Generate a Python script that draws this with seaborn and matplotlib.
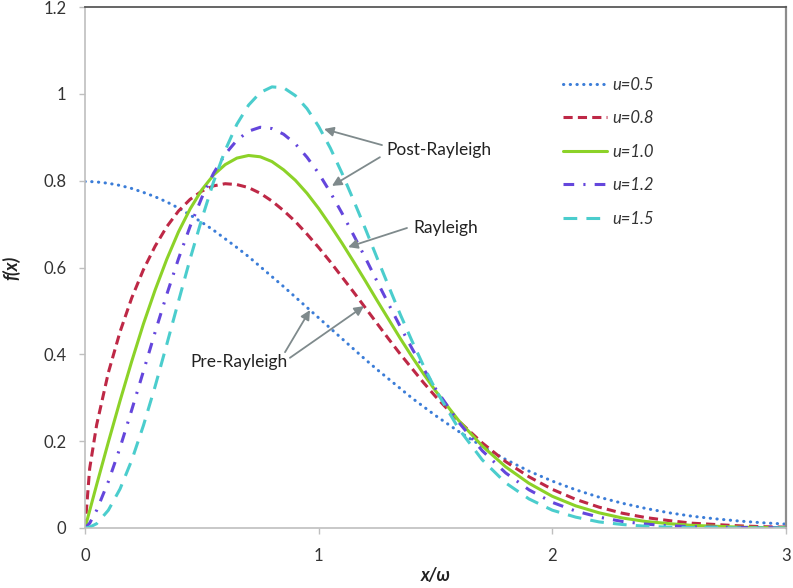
import pandas as pd
import matplotlib
matplotlib.use("Agg")
import matplotlib.pyplot as plt
import seaborn as sns

# values (x/omega vs f(x))
x_vals = [0, 0.02, 0.05, 0.1, 0.15, 0.2, 0.25, 0.3, 0.35, 0.4, 0.45, 0.5, 0.55,
          0.6, 0.65, 0.7, 0.75, 0.8, 0.85, 0.9, 0.95, 1.0, 1.05, 1.1, 1.15, 1.2,
          1.25, 1.3, 1.35, 1.4, 1.45, 1.5, 1.6, 1.7, 1.8, 1.9, 2.0, 2.1, 2.2,
          2.3, 2.4, 2.5, 2.6, 2.7, 2.8, 2.9, 3.0]

f_u05 = [0.798, 0.798, 0.797, 0.794, 0.789, 0.782, 0.773, 0.763, 0.751, 0.737,
         0.721, 0.704, 0.686, 0.666, 0.646, 0.625, 0.602, 0.579, 0.556, 0.532,
         0.508, 0.484, 0.460, 0.436, 0.412, 0.388, 0.365, 0.343, 0.321, 0.299,
         0.279, 0.259, 0.222, 0.188, 0.158, 0.131, 0.108, 0.088, 0.071, 0.057,
         0.045, 0.035, 0.027, 0.021, 0.016, 0.012, 0.009]
f_u08 = [0, 0.137, 0.238, 0.358, 0.452, 0.530, 0.595, 0.649, 0.694, 0.730,
         0.757, 0.776, 0.788, 0.793, 0.791, 0.784, 0.771, 0.753, 0.731, 0.706,
         0.677, 0.646, 0.613, 0.578, 0.543, 0.507, 0.471, 0.435, 0.400, 0.367,
         0.334, 0.303, 0.246, 0.196, 0.153, 0.118, 0.089, 0.066, 0.048, 0.034,
         0.024, 0.017, 0.011, 0.008, 0.005, 0.003, 0.002]
f_u10 = [0, 0.040, 0.100, 0.198, 0.293, 0.384, 0.470, 0.548, 0.619, 0.682,
         0.735, 0.779, 0.813, 0.837, 0.852, 0.858, 0.855, 0.844, 0.825, 0.801,
         0.771, 0.736, 0.697, 0.656, 0.613, 0.569, 0.524, 0.480, 0.436, 0.394,
         0.354, 0.316, 0.247, 0.189, 0.141, 0.103, 0.073, 0.051, 0.035, 0.023,
         0.015, 0.010, 0.006, 0.004, 0.002, 0.001, 0.001]
f_u12 = [0, 0.011, 0.041, 0.107, 0.185, 0.272, 0.361, 0.451, 0.538, 0.620,
         0.695, 0.761, 0.817, 0.861, 0.893, 0.914, 0.923, 0.920, 0.907, 0.885,
         0.854, 0.817, 0.773, 0.725, 0.674, 0.622, 0.568, 0.515, 0.463, 0.413,
         0.366, 0.321, 0.243, 0.178, 0.127, 0.088, 0.059, 0.039, 0.025, 0.015,
         0.009, 0.005, 0.003, 0.002, 0.001, 0.001, 0.000]
f_u15 = [0, 0.002, 0.010, 0.041, 0.090, 0.156, 0.236, 0.326, 0.423, 0.522,
         0.620, 0.712, 0.797, 0.870, 0.930, 0.974, 1.003, 1.016, 1.014, 0.996,
         0.966, 0.925, 0.875, 0.817, 0.754, 0.689, 0.622, 0.556, 0.491, 0.430,
         0.372, 0.319, 0.228, 0.157, 0.104, 0.067, 0.041, 0.025, 0.014, 0.008,
         0.004, 0.002, 0.001, 0.001, 0.000, 0.000, 0.000]

series_labels = ["u=0.5", "u=0.8", "u=1.0", "u=1.2", "u=1.5"]
series_values = [f_u05, f_u08, f_u10, f_u12, f_u15]

colors = ["#3B7DD8", "#BE2846", "#8CD228", "#6446DC", "#4BCDCD"]
styles = [(0, (0.1, 2.1)), (0, (3, 1.7)), "-", (0, (3.5, 3, 0.7, 3)), (0, (4.5, 3))]
caps = ["round", "butt", "butt", "butt", "butt"]

df = pd.concat(
    [pd.DataFrame({"x": x_vals, "f": v, "u": lab}) for lab, v in zip(series_labels, series_values)],
    ignore_index=True,
)

sns.set_theme(style="white")
plt.rcParams["font.family"] = ["Lato", "DejaVu Sans"]

fig = plt.figure(figsize=(7.93, 5.88), dpi=100)
ax = fig.add_axes([85 / 793, 1 - 528 / 588, 701 / 793, 521 / 588])

for lab, col, ls, cap in zip(series_labels, colors, styles, caps):
    sns.lineplot(data=df[df["u"] == lab], x="x", y="f", color=col, linestyle=ls,
                 lw=2.2, dash_capstyle=cap, label=lab, ax=ax, errorbar=None)

ax.set_xlim(0, 3)
ax.set_ylim(0, 1.2)
ax.set_xticks([0, 1, 2, 3])
ax.set_yticks([0, 0.2, 0.4, 0.6, 0.8, 1.0, 1.2])
ax.set_yticklabels(["0", "0.2", "0.4", "0.6", "0.8", "1", "1.2"])
ax.set_xticklabels(["0", "1", "2", "3"])
ax.tick_params(axis="both", which="major", direction="out", length=4.5, width=1,
               color="#BFBFBF", labelsize=12, labelcolor="#333333", left=True, bottom=True)
ax.tick_params(axis="x", pad=10)
ax.tick_params(axis="y", pad=9)

for side in ["left", "bottom"]:
    ax.spines[side].set_color("#BFBFBF")
    ax.spines[side].set_linewidth(1.2)
ax.spines["top"].set_color("#595959")
ax.spines["top"].set_linewidth(1.3)
ax.spines["right"].set_color("#8C8C8C")
ax.spines["right"].set_linewidth(1.6)

ax.set_xlabel("x/ω", fontsize=13, fontweight="bold", fontstyle="italic", color="#222222")
ax.set_ylabel("f(x)", fontsize=13, fontweight="bold", fontstyle="italic", color="#222222")
ax.xaxis.label.set_va("center")
ax.xaxis.set_label_coords(0.5, -0.092)
ax.yaxis.set_label_coords(-0.092, 0.5)

handles, labels = ax.get_legend_handles_labels()
ax.legend(handles, labels, loc="upper left", bbox_to_anchor=(0.661, 0.895), frameon=False,
          handlelength=2.6, handletextpad=0.35, labelspacing=1.05,
          prop={"size": 12, "style": "italic"}, labelcolor="#333333")

# annotations
arrow_kw = dict(arrowstyle="-|>", color="#7F8A8C", lw=1.3, mutation_scale=14,
                shrinkA=0, shrinkB=0)
ax.text(1.288, 0.871, "Post-Rayleigh", fontsize=12.5, color="#222222", va="center", ha="left")
ax.annotate("", xy=(1.023, 0.919), xytext=(1.271, 0.882), arrowprops=arrow_kw)
ax.annotate("", xy=(1.057, 0.788), xytext=(1.262, 0.854), arrowprops=arrow_kw)

ax.text(1.404, 0.691, "Rayleigh", fontsize=12.5, color="#222222", va="center", ha="left")
ax.annotate("", xy=(1.126, 0.647), xytext=(1.378, 0.691), arrowprops=arrow_kw)

ax.text(0.449, 0.382, "Pre-Rayleigh", fontsize=12.5, color="#222222", va="center", ha="left")
ax.annotate("", xy=(0.963, 0.502), xytext=(0.856, 0.405), arrowprops=arrow_kw)
ax.annotate("", xy=(1.194, 0.511), xytext=(0.877, 0.392), arrowprops=arrow_kw)

fig.savefig("out.png", dpi=100)
